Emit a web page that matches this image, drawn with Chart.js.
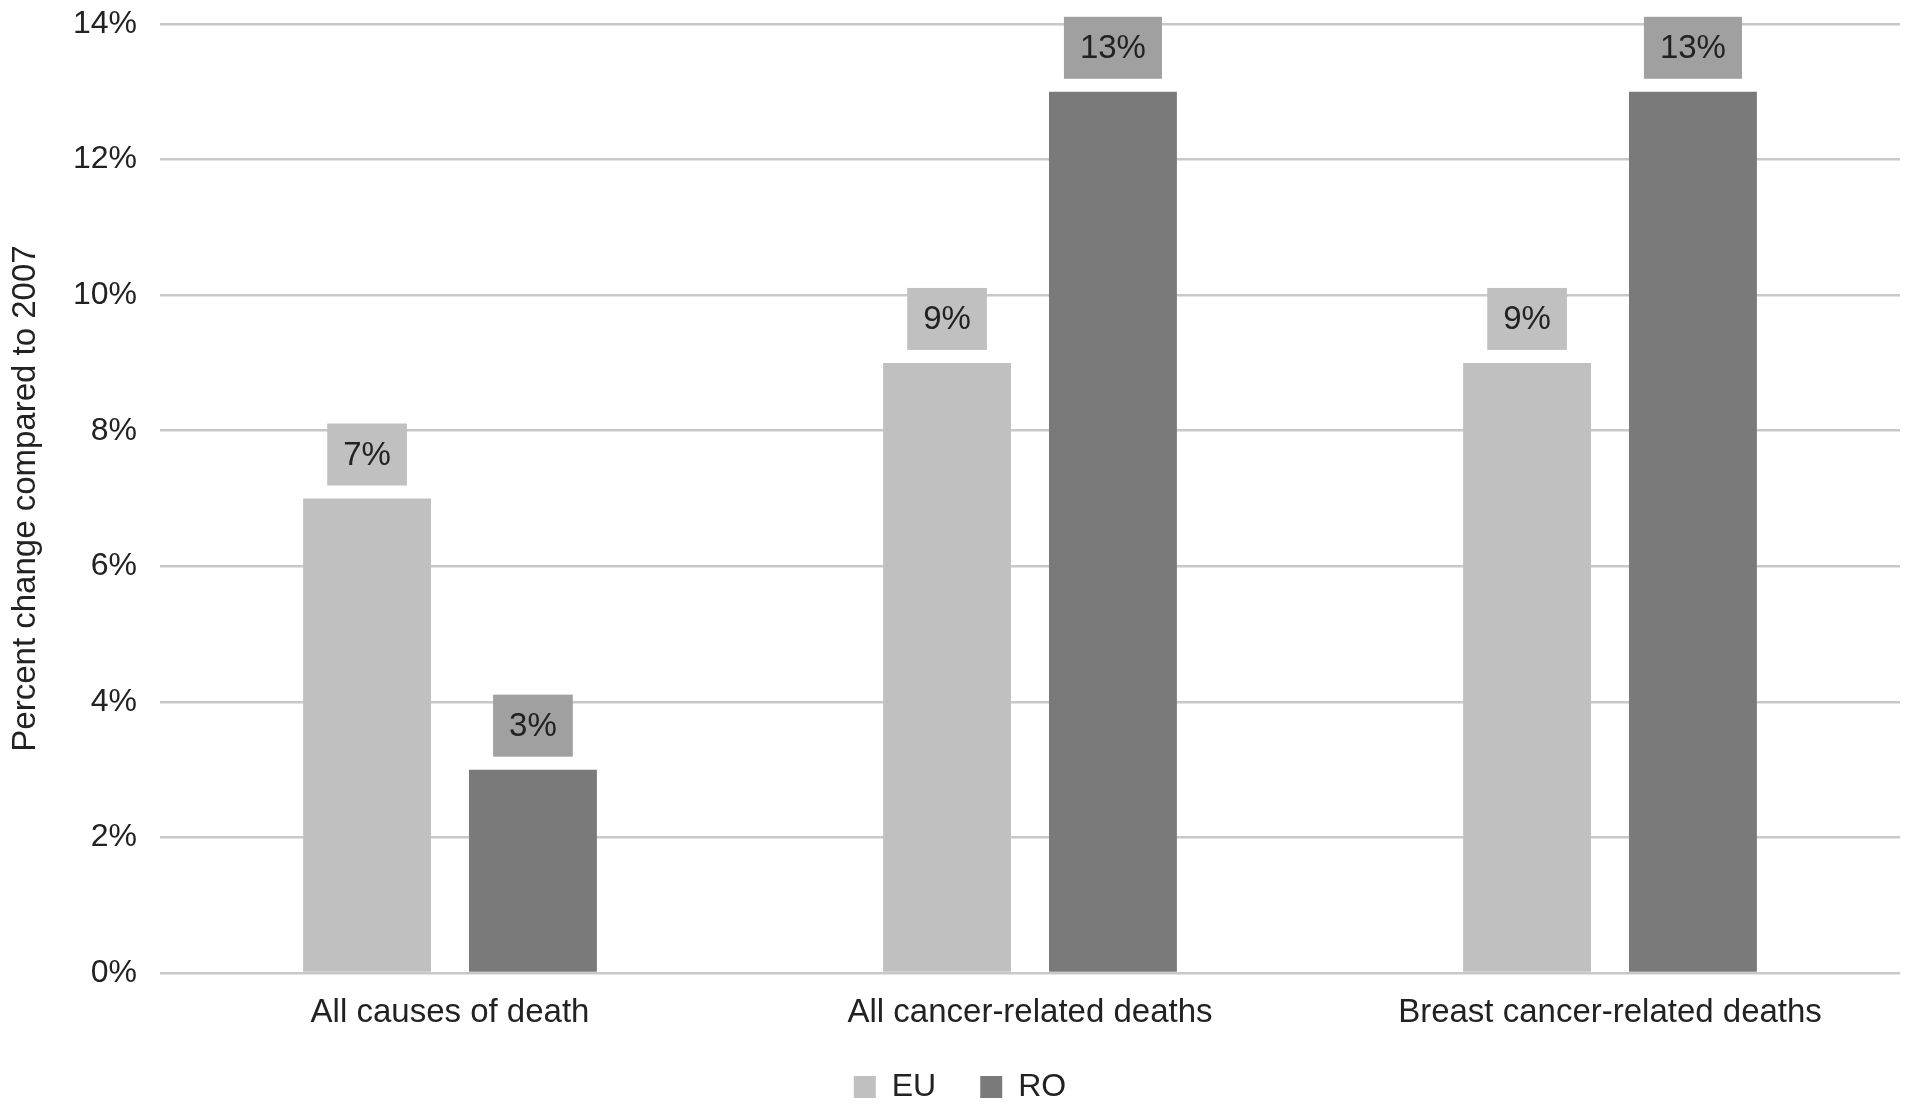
<!DOCTYPE html>
<html>
<head>
<meta charset="utf-8">
<script src="https://cdn.jsdelivr.net/npm/chart.js@4.4.1/dist/chart.umd.min.js"></script>
<style>
  html, body { margin: 0; padding: 0; background: #ffffff; }
  #wrap { width: 1913px; height: 1107px; position: relative; }
</style>
</head>
<body>
<div id="wrap"><canvas id="c" width="1913" height="1107"></canvas></div>
<script>
const categories = ["All causes of death", "All cancer-related deaths", "Breast cancer-related deaths"];
const seriesNames = ["EU", "RO"];
const euValues = [7, 9, 9];
const roValues = [3, 13, 13];
const yTicks = [0, 2, 4, 6, 8, 10, 12, 14];

const FONT = "'Liberation Sans', Arial, Helvetica, sans-serif";
const barColors = ["#c0c0c0", "#7a7a7a"];
const labelBoxColors = ["#c0c0c0", "#a0a0a0"];

const valueLabels = {
  id: 'valueLabels',
  afterDatasetsDraw(chart) {
    const ctx = chart.ctx;
    ctx.save();
    ctx.font = "33px " + FONT;
    ctx.textAlign = 'center';
    ctx.textBaseline = 'middle';
    chart.data.datasets.forEach((ds, di) => {
      const meta = chart.getDatasetMeta(di);
      meta.data.forEach((bar, i) => {
        const txt = ds.data[i] + '%';
        const w = ctx.measureText(txt).width + 32;
        const h = 62;
        const bottom = bar.y - 13;
        ctx.fillStyle = labelBoxColors[di];
        ctx.fillRect(bar.x - w / 2, bottom - h, w, h);
        ctx.fillStyle = '#222222';
        ctx.fillText(txt, bar.x, bottom - h / 2 + 1);
      });
    });
    ctx.restore();
  }
};

new Chart(document.getElementById('c'), {
  type: 'bar',
  data: {
    labels: categories,
    datasets: [
      { label: seriesNames[0], data: euValues, backgroundColor: barColors[0], categoryPercentage: 0.572, barPercentage: 0.771 },
      { label: seriesNames[1], data: roValues, backgroundColor: barColors[1], categoryPercentage: 0.572, barPercentage: 0.771 }
    ]
  },
  options: {
    responsive: false,
    animation: false,
    devicePixelRatio: 1,
    layout: { padding: { top: 24, right: 13, bottom: -6, left: 20 } },
    plugins: {
      legend: {
        position: 'bottom',
        labels: {
          boxWidth: 22, boxHeight: 22, padding: 44,
          color: '#222222',
          font: { family: FONT, size: 32 }
        }
      },
      tooltip: { enabled: false }
    },
    scales: {
      x: {
        grid: { display: false, drawTicks: false },
        border: { display: false },
        ticks: { color: '#222222', font: { family: FONT, size: 33 }, padding: 20, maxRotation: 0 },
        afterFit(scale) { scale.height = 54; }
      },
      y: {
        min: 0, max: 14,
        afterBuildTicks(scale) { scale.ticks = yTicks.map(v => ({ value: v })); },
        grid: { color: '#c8c8c8', lineWidth: 2.5, drawTicks: true, tickLength: 23, tickColor: 'rgba(0,0,0,0)' },
        border: { display: false },
        ticks: { color: '#222222', font: { family: FONT, size: 32 }, padding: 0, callback: v => v + '%' },
        title: { display: true, text: 'Percent change compared to 2007', color: '#222222', font: { family: FONT, size: 33 }, padding: { top: -14, bottom: 0 } },
        afterFit(scale) { scale.width = 140; }
      }
    }
  },
  plugins: [valueLabels]
});
</script>
</body>
</html>
